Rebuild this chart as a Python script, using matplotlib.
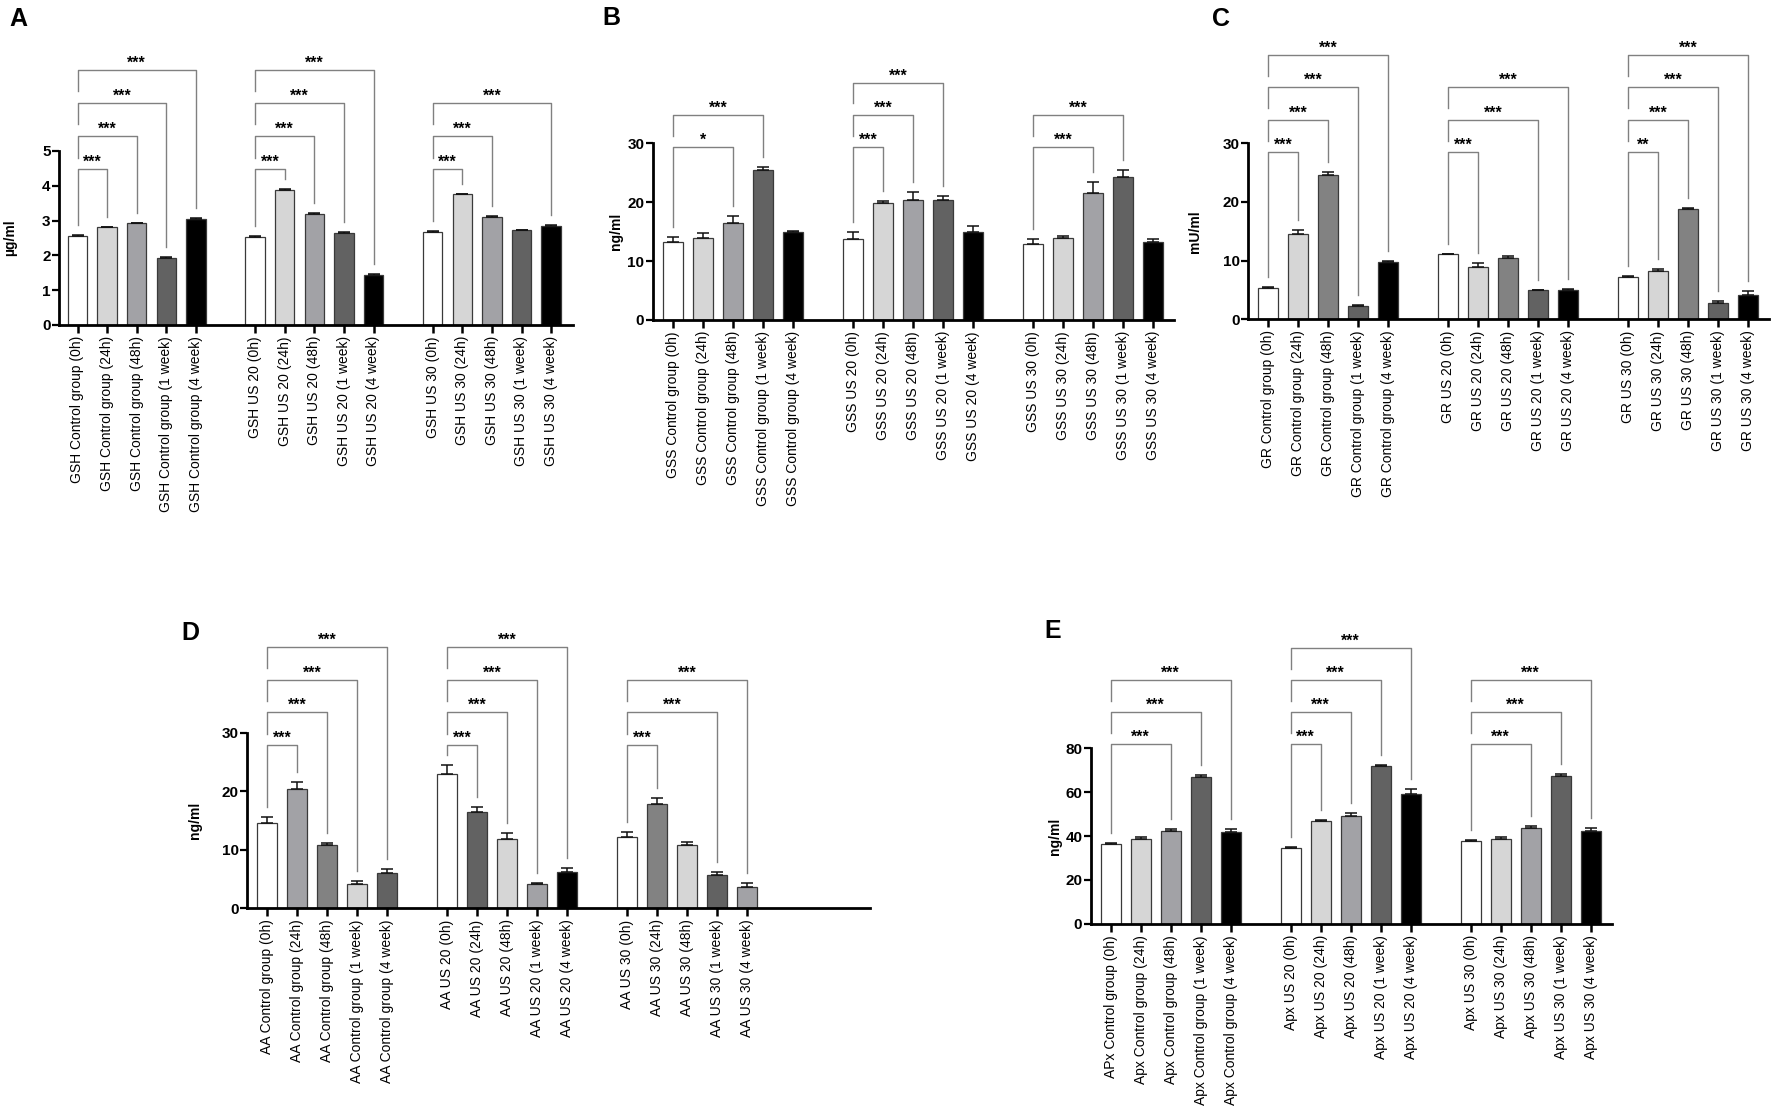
import numpy as np
import matplotlib
matplotlib.use('Agg')
import matplotlib.pyplot as plt

plt.rcParams['font.family'] = ['Liberation Sans', 'DejaVu Sans']

W, H = 1772, 1110

# bar fills used by the figure
WH, LT, MD, GY, DK, BK = '#ffffff', '#d6d6d6', '#a2a2a6', '#828282', '#626262', '#000000'

times = ['(0h)', '(24h)', '(48h)', '(1 week)', '(4 week)']

# ---- A : GSH ----
a_labels = (['GSH Control group ' + t for t in times] + ['GSH US 20 ' + t for t in times]
            + ['GSH US 30 ' + t for t in times])
a_values = [2.57, 2.82, 2.92, 1.93, 3.05,
            2.53, 3.89, 3.20, 2.63, 1.44,
            2.67, 3.75, 3.09, 2.72, 2.84]
a_errors = [0.02, 0.01, 0.02, 0.01, 0.03,
            0.03, 0.02, 0.01, 0.03, 0.02,
            0.04, 0.01, 0.05, 0.02, 0.03]
a_colors = [WH, LT, MD, DK, BK] * 3
a_brackets = [(0, 1, 1, '***'), (0, 2, 2, '***'), (0, 3, 3, '***'), (0, 4, 4, '***'),
              (5, 6, 1, '***'), (5, 7, 2, '***'), (5, 8, 3, '***'), (5, 9, 4, '***'),
              (10, 11, 1, '***'), (10, 12, 2, '***'), (10, 14, 3, '***')]

# ---- B : GSS ----
b_labels = (['GSS Control group ' + t for t in times] + ['GSS US 20 ' + t for t in times]
            + ['GSS US 30 ' + t for t in times])
b_values = [13.2, 14.0, 16.4, 25.5, 14.9,
            13.7, 19.8, 20.4, 20.3, 14.9,
            12.9, 14.0, 21.6, 24.3, 13.2]
b_errors = [0.9, 0.7, 1.2, 0.4, 0.2,
            1.2, 0.4, 1.4, 0.8, 1.1,
            0.8, 0.2, 1.9, 1.2, 0.5]
b_colors = [WH, LT, MD, DK, BK] * 3
b_brackets = [(0, 2, 1, '*'), (0, 3, 2, '***'),
              (5, 6, 1, '***'), (5, 7, 2, '***'), (5, 8, 3, '***'),
              (10, 12, 1, '***'), (10, 13, 2, '***')]

# ---- C : GR ----
c_labels = (['GR Control group ' + t for t in times] + ['GR US 20 ' + t for t in times]
            + ['GR US 30 ' + t for t in times])
c_values = [5.4, 14.5, 24.6, 2.27, 9.83,
            11.08, 8.98, 10.4, 4.94, 5.06,
            7.27, 8.3, 18.75, 2.73, 4.15]
c_errors = [0.17, 0.7, 0.45, 0.13, 0.11,
            0.12, 0.57, 0.4, 0.12, 0.11,
            0.06, 0.2, 0.15, 0.47, 0.65]
c_colors = [WH, LT, GY, DK, BK] * 3
c_brackets = [(0, 1, 1, '***'), (0, 2, 2, '***'), (0, 3, 3, '***'), (0, 4, 4, '***'),
              (5, 6, 1, '***'), (5, 8, 2, '***'), (5, 9, 3, '***'),
              (10, 11, 1, '**'), (10, 12, 2, '***'), (10, 13, 3, '***'), (10, 14, 4, '***')]

# ---- D : AA ----
d_labels = (['AA Control group ' + t for t in times] + ['AA US 20 ' + t for t in times]
            + ['AA US 30 ' + t for t in times])
d_values = [14.6, 20.4, 10.8, 4.1, 5.98,
            22.9, 16.45, 11.8, 4.1, 6.26,
            12.1, 17.9, 10.8, 5.63, 3.64]
d_errors = [1.05, 1.1, 0.4, 0.62, 0.72,
            1.5, 0.8, 1.0, 0.17, 0.64,
            1.0, 0.9, 0.5, 0.52, 0.63]
d_colors = [WH, MD, GY, LT, DK,
            WH, DK, LT, MD, BK,
            WH, GY, LT, DK, MD]
d_brackets = [(0, 1, 1, '***'), (0, 2, 2, '***'), (0, 3, 3, '***'), (0, 4, 4, '***'),
              (5, 6, 1, '***'), (5, 7, 2, '***'), (5, 8, 3, '***'), (5, 9, 4, '***'),
              (10, 11, 1, '***'), (10, 13, 2, '***'), (10, 14, 3, '***')]

# ---- E : Apx ----
e_labels = (['APx Control group (0h)'] + ['Apx Control group ' + t for t in times[1:]]
            + ['Apx US 20 ' + t for t in times] + ['Apx US 30 ' + t for t in times])
e_values = [36.6, 38.7, 42.5, 66.8, 42.0,
            34.4, 46.7, 49.0, 71.9, 59.0,
            37.6, 38.8, 43.5, 67.4, 42.5]
e_errors = [0.4, 0.8, 0.7, 0.9, 1.2,
            0.8, 0.6, 1.4, 0.3, 2.5,
            0.5, 1.0, 1.0, 0.7, 1.1]
e_colors = [WH, LT, MD, DK, BK] * 3
e_brackets = [(0, 2, 1, '***'), (0, 3, 2, '***'), (0, 4, 3, '***'),
              (5, 6, 1, '***'), (5, 7, 2, '***'), (5, 8, 3, '***'), (5, 9, 4, '***'),
              (10, 12, 1, '***'), (10, 13, 2, '***'), (10, 14, 3, '***')]

fig = plt.figure(figsize=(W / 100, H / 100), dpi=100)
fig.patch.set_facecolor('white')


def draw_panel(geom, letter, letter_xy, labels, values, errors, colors, brackets,
               ylabel, yticks, ylab_dx, base, step):
    # geom: y-axis x, first bar centre, bar spacing, axis right end, top y, zero y (pixels)
    yax, first, sp, right, top, zero = geom
    ax = fig.add_axes([yax / W, 1 - zero / H, (right - yax) / W, (zero - top) / H])
    ax.patch.set_alpha(0)
    x = np.arange(len(values)) + np.arange(len(values)) // 5
    values = np.array(values)
    errors = np.array(errors)
    ax.bar(x, values, width=0.66, color=colors, edgecolor='#3a3a3a', linewidth=0.9, zorder=2)
    ax.errorbar(x, values, yerr=[np.zeros(len(values)), errors], fmt='none', ecolor='#111111',
                elinewidth=1.1, capsize=4, capthick=1.1, zorder=3)
    ax.set_xlim(-(first - yax) / sp, (right - first) / sp)
    ax.set_ylim(0, yticks[-1])
    ax.set_yticks(yticks)
    ax.set_xticks(x)
    ax.set_xticklabels(labels, rotation=90, fontsize=10)
    for t in ax.get_yticklabels():
        t.set_fontweight('bold')
        t.set_fontsize(11)
    for s in ['top', 'right']:
        ax.spines[s].set_visible(False)
    for s in ['left', 'bottom']:
        ax.spines[s].set_linewidth(2.0)
    ax.tick_params(axis='y', width=1.6, length=5, pad=1)
    ax.tick_params(axis='x', width=1.8, length=6, pad=2)
    ax.set_ylabel(ylabel, fontsize=10, fontweight='bold')
    ax.yaxis.set_label_coords(-ylab_dx / (right - yax), 0.5)

    ppu = (zero - top) / yticks[-1]   # pixels per data unit
    gap = 10 / ppu
    for s, e, lev, txt in brackets:
        yl = base + (lev - 1) * step
        x0, x1 = x[s], x[e]
        if lev == 1:
            left_bot = values[s] + errors[s] + gap
        else:
            left_bot = yl - 0.65 * step
        right_bot = values[e] + errors[e] + gap
        ax.plot([x0, x0, x1, x1], [left_bot, yl, yl, right_bot], color='#808080',
                lw=1.0, clip_on=False, zorder=1)
        ax.annotate(txt, xy=((x0 + x1) / 2, yl), xytext=(0, 1.5), textcoords='offset points',
                    ha='center', va='baseline', fontsize=11.5, fontweight='bold',
                    annotation_clip=False)

    fig.text(letter_xy[0] / W, 1 - letter_xy[1] / H, letter, fontsize=18, fontweight='bold',
             ha='left', va='top')
    return ax


draw_panel((59, 77.5, 29.6, 573, 151, 325), 'A', (9, 7), a_labels, a_values, a_errors,
           a_colors, a_brackets, 'µg/ml', [0, 1, 2, 3, 4, 5], 42, 4.48, 0.95)
draw_panel((652.7, 673, 30, 1174, 143.3, 320), 'B', (602, 6), b_labels, b_values, b_errors,
           b_colors, b_brackets, 'ng/ml', [0, 10, 20, 30], 30, 29.4, 5.45)
draw_panel((1248, 1268, 30, 1769, 143.3, 319.3), 'C', (1212, 7), c_labels, c_values, c_errors,
           c_colors, c_brackets, 'mU/ml', [0, 10, 20, 30], 46, 28.55, 5.5)
draw_panel((247.3, 267.3, 30, 870, 732.7, 908.3), 'D', (181, 621), d_labels, d_values, d_errors,
           d_colors, d_brackets, 'ng/ml', [0, 10, 20, 30], 45, 27.9, 5.58)
draw_panel((1090.7, 1110.7, 30, 1612, 748.3, 923.9), 'E', (1044, 619), e_labels, e_values, e_errors,
           e_colors, e_brackets, 'ng/ml', [0, 20, 40, 60, 80], 29, 81.8, 14.7)

fig.savefig('out.png', dpi=100)
